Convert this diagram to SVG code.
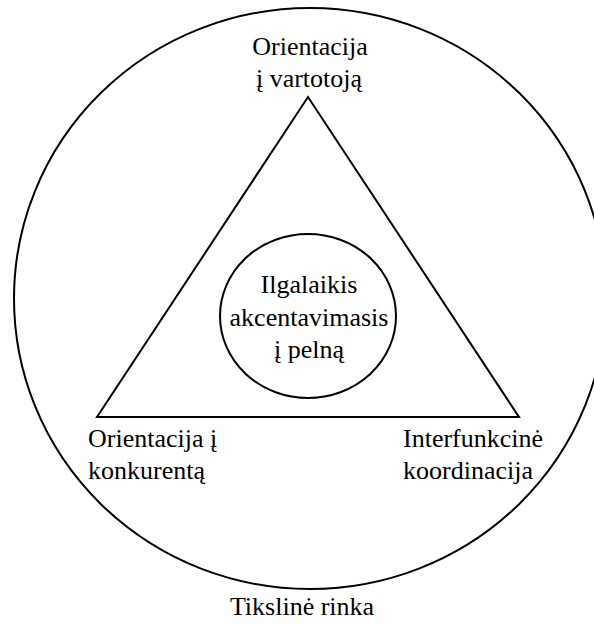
<svg xmlns="http://www.w3.org/2000/svg" width="594" height="625" viewBox="0 0 594 625">
<style>
.shape{fill:none;stroke:#000;stroke-width:2}
text{font-family:'Liberation Serif','Times New Roman','DejaVu Serif',serif;font-size:26px;fill:#000}
.c{text-anchor:middle}
</style>
<rect width="594" height="625" fill="#fff"/>
<g id="market">
<ellipse class="shape" cx="310" cy="298.5" rx="296" ry="290.5"/>
<text class="c" x="302" y="615">Tikslinė rinka</text>
</g>
<g id="connectors">
<polygon class="shape" points="308,97 97,417 519,417"/>
</g>
<g id="customer">
<text class="c" x="310" y="55">Orientacija</text>
<text class="c" x="309" y="87">į vartotoją</text>
</g>
<g id="profit">
<ellipse class="shape" cx="308" cy="316" rx="88" ry="82"/>
<text class="c" x="309" y="293">Ilgalaikis</text>
<text class="c" x="309" y="326">akcentavimasis</text>
<text class="c" x="309" y="358">į pelną</text>
</g>
<g id="competitor">
<text x="88" y="447">Orientacija į</text>
<text x="88" y="479">konkurentą</text>
</g>
<g id="coordination">
<text x="403" y="447">Interfunkcinė</text>
<text x="403" y="479">koordinacija</text>
</g>
</svg>
